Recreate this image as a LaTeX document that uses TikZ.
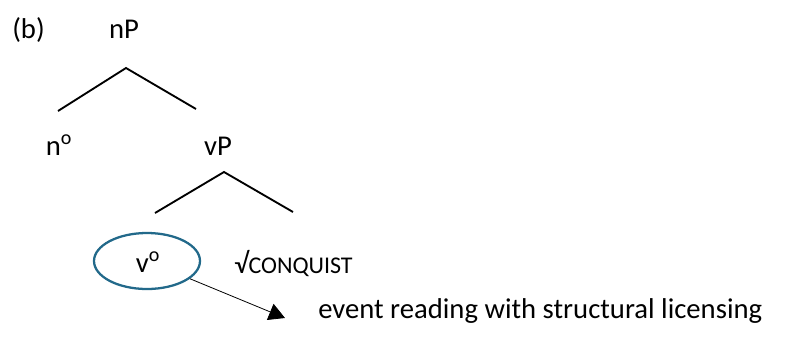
\documentclass[tikz,border=0pt]{standalone}
\usepackage{fontspec}
\setmainfont{Carlito}
\usetikzlibrary{arrows.meta,shapes.geometric}
\definecolor{ellblue}{HTML}{22698A}
\begin{document}
\begin{tikzpicture}[x=0.75pt,y=-0.75pt,
  lbl/.style={inner sep=0pt,font=\fontsize{21.5}{26}\selectfont},
  branch/.style={line width=1.4pt},
  circ/.style={draw=ellblue,line width=1.7pt,ellipse,minimum width=79.5pt,minimum height=42pt,inner sep=0pt},
  pointer/.style={line width=0.6pt,-{Triangle[length=12pt,width=13pt]}}]
\useasboundingbox (0,0) rectangle (795,336);
\node[lbl,anchor=base west] (b) at (12,38) {(b)};
\node[lbl,anchor=base] (nP) at (124,38) {nP};
\coordinate (a1) at (126,68);
\coordinate (l1) at (58,111);
\coordinate (r1) at (196,109);
\draw[branch] (l1) -- (a1) -- (r1);
\node[lbl,anchor=base] (n0) at (59,155) {n\textsuperscript{o}};
\node[lbl,anchor=base] (vP) at (218,155) {vP};
\coordinate (a2) at (224,172);
\coordinate (l2) at (155,213);
\coordinate (r2) at (293,212);
\draw[branch] (l2) -- (a2) -- (r2);
\node[circ] (v0) at (147,261) {};
\node[lbl,anchor=base] (v0t) at (148,272) {v\textsuperscript{o}};
\node[lbl,anchor=base west] (root) at (234,273) {√{\fontsize{18}{22}\selectfont CONQUIST}};
\node[lbl,anchor=base west] (ev) at (318,318) {event reading with structural licensing};
\coordinate (tip) at (285,318);
\draw[pointer] (v0) -- (tip);
\end{tikzpicture}
\end{document}
